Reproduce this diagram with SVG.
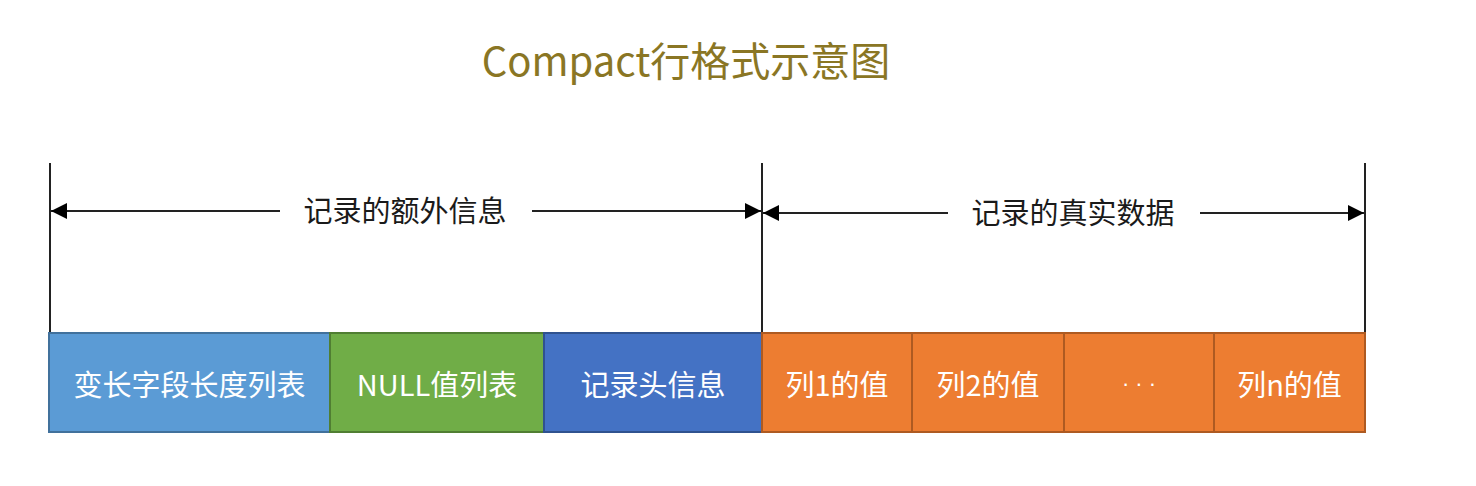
<svg xmlns="http://www.w3.org/2000/svg" width="1476" height="486" viewBox="0 0 1476 486">
<style>
text{font-family:"Noto Sans CJK SC","Liberation Sans",sans-serif}
.t{font-size:40px;fill:#8a7624}
.lbl{font-size:29px;fill:#1a1a1a;text-anchor:middle}
.bt{font-size:29px;fill:#ffffff;text-anchor:middle;dominant-baseline:central}
.dots{font-family:"Liberation Sans",sans-serif;font-size:22px}
.ln{stroke:#222;stroke-width:2;fill:none}
.b1{fill:#5b9bd5;stroke:#41719c;stroke-width:2}
.b2{fill:#70ad47;stroke:#507e32;stroke-width:2}
.b3{fill:#4472c4;stroke:#2f528f;stroke-width:2}
.b4{fill:#ed7d31;stroke:#ae5a21;stroke-width:2}
</style>
<defs>
<marker id="ah" viewBox="0 0 10 10" refX="10" refY="5" markerWidth="16" markerHeight="16" markerUnits="userSpaceOnUse" orient="auto">
<path d="M0,0 L10,5 L0,10 Z" fill="#000"/>
</marker>
</defs>
<rect width="1476" height="486" fill="#fff"/>
<text class="t" x="686" y="76" text-anchor="middle">Compact行格式示意图</text>
<g id="connectors">
<line class="ln" x1="50" y1="163" x2="50" y2="334"/>
<line class="ln" x1="762" y1="163" x2="762" y2="334"/>
<line class="ln" x1="1365" y1="163" x2="1365" y2="334"/>
<line class="ln" x1="280" y1="211" x2="51" y2="211" marker-end="url(#ah)"/>
<line class="ln" x1="532" y1="211" x2="761" y2="211" marker-end="url(#ah)"/>
<line class="ln" x1="948" y1="213" x2="763" y2="213" marker-end="url(#ah)"/>
<line class="ln" x1="1200" y1="213" x2="1364" y2="213" marker-end="url(#ah)"/>
</g>
<g id="label-extra"><text class="lbl" x="405" y="222">记录的额外信息</text></g>
<g id="label-real"><text class="lbl" x="1073" y="224">记录的真实数据</text></g>
<g id="n1"><rect class="b1" x="49" y="333" width="281" height="99"/><text class="bt" x="189.5" y="383">变长字段长度列表</text></g>
<g id="n2"><rect class="b2" x="330" y="333" width="214" height="99"/><text class="bt" x="437" y="383">NULL值列表</text></g>
<g id="n3"><rect class="b3" x="544" y="333" width="218" height="99"/><text class="bt" x="653" y="383">记录头信息</text></g>
<g id="n4"><rect class="b4" x="762" y="333" width="150" height="99"/><text class="bt" x="837" y="383">列1的值</text></g>
<g id="n5"><rect class="b4" x="912" y="333" width="152" height="99"/><text class="bt" x="988" y="383">列2的值</text></g>
<g id="n6"><rect class="b4" x="1064" y="333" width="150" height="99"/><text class="bt dots" x="1139" y="383">· · ·</text></g>
<g id="n7"><rect class="b4" x="1214" y="333" width="151" height="99"/><text class="bt" x="1289.5" y="383">列n的值</text></g>
</svg>
